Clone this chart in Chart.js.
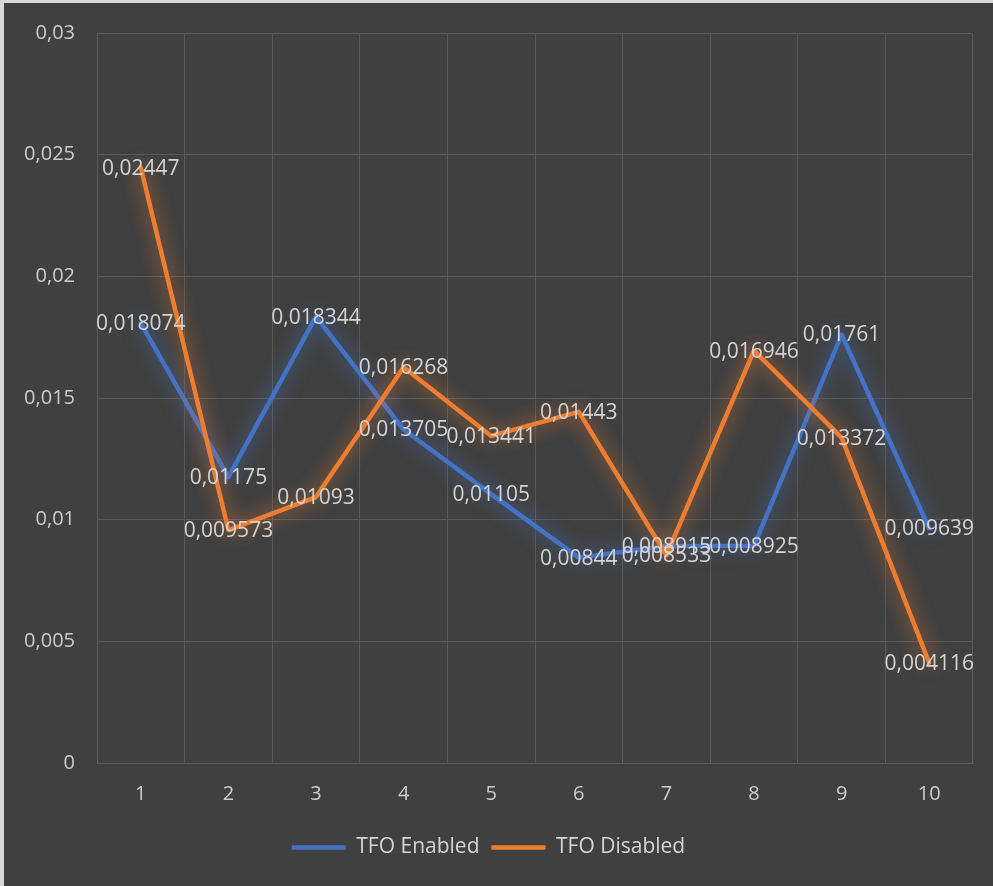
<!DOCTYPE html>
<html>
<head>
<meta charset="utf-8">
<script src="https://cdn.jsdelivr.net/npm/chart.js@4/dist/chart.umd.min.js"></script>
<style>
  html, body { margin: 0; padding: 0; background: #404040; }
  #frame {
    width: 989px; height: 883px;
    border-top: 3px solid #d9d9d9;
    border-left: 4px solid #d9d9d9;
    background: #404040;
  }
  #frame canvas { display: block; }
</style>
</head>
<body>
<div id="frame"><canvas id="c" width="989" height="883"></canvas></div>
<script>
// Run number on the x axis
const categories = ['1', '2', '3', '4', '5', '6', '7', '8', '9', '10'];
// Measured times per run
const tfoEnabled  = [0.018074, 0.01175, 0.018344, 0.013705, 0.01105, 0.00844, 0.008915, 0.008925, 0.01761, 0.009639];
const tfoDisabled = [0.02447, 0.009573, 0.01093, 0.016268, 0.013441, 0.01443, 0.008533, 0.016946, 0.013372, 0.004116];
const seriesNames = ['TFO Enabled', 'TFO Disabled'];
const seriesColors = ['#4472C4', '#ED7D31'];
const glowColors = ['rgba(68,114,196,0.9)', 'rgba(237,125,49,0.9)'];

const FONT = '"Open Sans", "Noto Sans", sans-serif';
const decimalComma = v => String(v).replace('.', ',');

// Soft halo around each line
const glowPlugin = {
  id: 'glow',
  beforeDatasetDraw(chart, args) {
    const ctx = chart.ctx;
    ctx.save();
    ctx.shadowColor = glowColors[args.index];
    ctx.shadowBlur = 18;
    ctx.shadowOffsetX = 0;
    ctx.shadowOffsetY = 0;
  },
  afterDatasetDraw(chart) {
    chart.ctx.restore();
  }
};

// Value labels centred on each point
const valueLabels = {
  id: 'valueLabels',
  afterDatasetsDraw(chart) {
    const ctx = chart.ctx;
    ctx.save();
    ctx.font = '21px ' + FONT;
    ctx.fillStyle = '#d4d4d4';
    ctx.textAlign = 'center';
    ctx.textBaseline = 'middle';
    chart.data.datasets.forEach((ds, di) => {
      const meta = chart.getDatasetMeta(di);
      meta.data.forEach((pt, i) => {
        ctx.fillText(decimalComma(ds.data[i]), pt.x, pt.y + 1);
      });
    });
    ctx.restore();
  }
};

new Chart(document.getElementById('c'), {
  type: 'line',
  data: {
    labels: categories,
    datasets: [
      {
        label: seriesNames[0],
        data: tfoEnabled,
        borderColor: seriesColors[0],
        backgroundColor: seriesColors[0],
        borderWidth: 4.5,
        borderCapStyle: 'round',
        borderJoinStyle: 'round',
        pointRadius: 0,
        tension: 0,
        order: 1
      },
      {
        label: seriesNames[1],
        data: tfoDisabled,
        borderColor: seriesColors[1],
        backgroundColor: seriesColors[1],
        borderWidth: 4.5,
        borderCapStyle: 'round',
        borderJoinStyle: 'round',
        pointRadius: 0,
        tension: 0,
        order: 0
      }
    ]
  },
  options: {
    responsive: false,
    animation: false,
    layout: { padding: { top: 30, right: 20, bottom: 18, left: 0 } },
    plugins: {
      tooltip: { enabled: false },
      legend: {
        position: 'bottom',
        labels: {
          usePointStyle: true,
          pointStyle: 'line',
          pointStyleWidth: 54,
          boxWidth: 54,
          padding: 12,
          color: '#d4d4d4',
          font: { family: FONT, size: 21 },
          sort: (a, b) => a.datasetIndex - b.datasetIndex
        }
      }
    },
    scales: {
      x: {
        offset: true,
        grid: { offset: true, color: '#5a5a5a', lineWidth: 1, drawTicks: false },
        border: { display: true, color: '#5a5a5a' },
        ticks: { color: '#cccccc', font: { family: FONT, size: 20 }, padding: 19 },
        afterFit(scale) {
          scale.height = 62;
          scale.paddingLeft = 0;
          scale.paddingRight = 0;
        }
      },
      y: {
        min: 0,
        max: 0.03,
        grid: { color: '#5a5a5a', lineWidth: 1, drawTicks: false },
        border: { display: false },
        ticks: {
          stepSize: 0.005,
          color: '#cccccc',
          font: { family: FONT, size: 20 },
          padding: 22,
          callback: v => decimalComma(+v.toFixed(3))
        },
        afterFit(scale) {
          scale.width = 93;
          scale.paddingTop = 0;
          scale.paddingBottom = 0;
        }
      }
    }
  },
  plugins: [glowPlugin, valueLabels]
});
</script>
</body>
</html>
